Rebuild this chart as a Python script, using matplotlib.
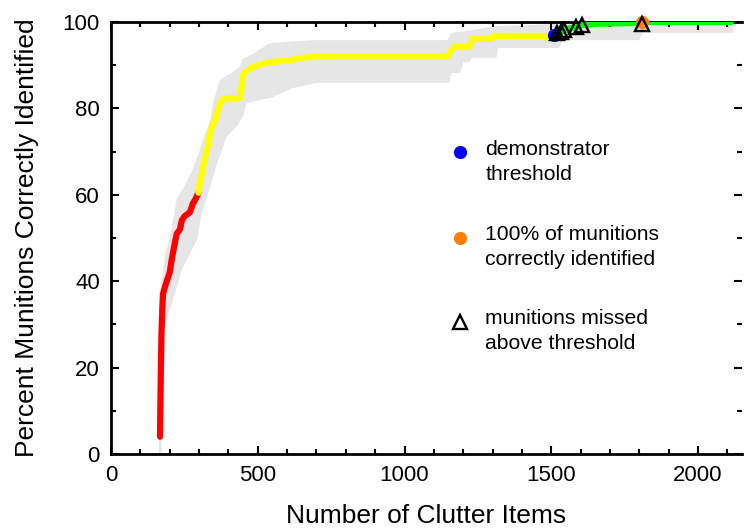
import matplotlib
matplotlib.use("Agg")
import matplotlib.pyplot as plt
from matplotlib.ticker import MultipleLocator
import numpy as np

plt.rcParams['font.family'] = ['Liberation Sans', 'DejaVu Sans']

# ---- data ----
red_x = [167, 168, 170, 172, 175, 177, 183, 190, 200, 207, 215, 224, 235, 241, 250, 260, 269, 279, 288, 298]
red_y = [4, 10, 20, 28, 34, 37, 38.5, 40, 42, 45, 48, 51, 52, 54, 55, 55.5, 56, 58, 59, 60.5]

yellow_x = [298, 303, 310, 318, 326, 332, 337, 345, 354, 362, 371, 380, 388, 439, 443, 445, 449, 460, 483,
            510, 541, 609, 650, 687, 1146, 1160, 1170, 1221, 1230, 1299, 1305, 1512]
yellow_y = [60.5, 63, 65, 68, 70, 72, 74, 76, 77, 79, 81, 82, 82.4, 82.4, 84, 85, 87.7, 88.5, 89.6,
            90.2, 90.7, 91.2, 91.6, 92, 92, 93.5, 94.3, 94.3, 96.1, 96.1, 96.8, 96.8]

green_x = [1512, 1520, 1534, 1544, 1560, 1585, 1605, 1650, 1806, 1812, 2112]
green_y = [96.9, 97.5, 97.7, 98.1, 98.5, 98.8, 99.3, 99.6, 99.8, 100, 100]

band_upper_x = [163, 163, 165, 168, 175, 184, 200, 224, 250, 279, 300, 320, 337, 350, 371, 405, 439, 449,
                480, 541, 687, 1146, 1160, 1221, 1300, 1500, 1520, 2120]
band_upper_y = [0, 15, 30, 38, 41, 46, 50, 59, 62, 66, 70, 74, 77, 82, 86.6, 88, 89.6, 91.5,
                92.5, 95.1, 95.8, 95.8, 97.5, 98, 99, 99.5, 100, 100]
band_lower_x = [172, 173, 176, 180, 190, 211, 241, 270, 293, 310, 330, 360, 394, 430, 449, 462, 551, 619,
                700, 1153, 1160, 1190, 1200, 1221, 1230, 1313, 1320, 1527, 1540, 1800, 1810, 2120]
band_lower_y = [0, 15, 25, 28.7, 31, 35.6, 42.6, 46.5, 49.5, 56, 60, 67, 73.4, 76, 78, 81.2, 82.6, 84.7,
                85.9, 85.9, 88.2, 88.2, 90.7, 90.7, 91.7, 91.7, 94, 94, 95.8, 95.8, 97.5, 97.5]

threshold_x = [1510]
threshold_y = [97]
all_found_x = [1808]
all_found_y = [100]
missed_x = [1520, 1534, 1544, 1585, 1605, 1810]
missed_y = [97.5, 97.7, 98.1, 98.8, 99.3, 99.5]

legend_labels = ["demonstrator\nthreshold", "100% of munitions\ncorrectly identified",
                 "munitions missed\nabove threshold"]

# ---- figure ----
fig = plt.figure(figsize=(7.45, 5.29), dpi=100)
ax = fig.add_axes([0.149, 0.1418, 0.847, 0.8166])

bx = np.concatenate([band_upper_x, band_lower_x[::-1]])
by = np.concatenate([band_upper_y, band_lower_y[::-1]])
ax.fill(bx, by, color='#e6e6e6', lw=0, zorder=1)

lw = 4.5
ax.plot(red_x, red_y, color='#ff0000', lw=lw, solid_capstyle='round', solid_joinstyle='round', zorder=3)
ax.plot(yellow_x, yellow_y, color='#ffff00', lw=lw, solid_capstyle='round', solid_joinstyle='round', zorder=3)
ax.plot(green_x, green_y, color='#00ff00', lw=lw, solid_capstyle='round', solid_joinstyle='round', zorder=3)

ax.plot(threshold_x, threshold_y, 'o', color='#0000ff', ms=9.5, mec='none', zorder=4, clip_on=False)
ax.plot(all_found_x, all_found_y, 'o', color='#ff7f00', ms=9.5, mec='none', zorder=4, clip_on=False)
ax.plot(missed_x, missed_y, '^', mfc='none', mec='black', ms=9.5, mew=1.7, zorder=5, clip_on=False)

ax.set_xlim(0, 2150)
ax.set_ylim(0, 100)

ax.xaxis.set_major_locator(MultipleLocator(500))
ax.xaxis.set_minor_locator(MultipleLocator(100))
ax.yaxis.set_major_locator(MultipleLocator(20))
ax.yaxis.set_minor_locator(MultipleLocator(10))

ax.tick_params(which='both', direction='in', top=True, right=True, width=1.5, labelsize=16, pad=8)
ax.tick_params(which='major', length=6)
ax.tick_params(which='minor', length=3.5)

for s in ['left', 'bottom', 'top']:
    ax.spines[s].set_linewidth(2)
ax.spines['right'].set_visible(False)

ax.set_xlabel("Number of Clutter Items", fontsize=19, labelpad=13)
ax.set_ylabel("Percent Munitions Correctly Identified", fontsize=19, labelpad=17)

# ---- custom legend ----
leg_marker_y = [0.699, 0.50, 0.3056]
leg_text_y = [0.728, 0.529, 0.335]
ax.plot(0.553, leg_marker_y[0], 'o', color='#0000ff', ms=9.5, mec='none', transform=ax.transAxes)
ax.plot(0.553, leg_marker_y[1], 'o', color='#ff7f00', ms=9.5, mec='none', transform=ax.transAxes)
ax.plot(0.553, leg_marker_y[2], '^', mfc='none', mec='black', ms=9.5, mew=1.7, transform=ax.transAxes)
for ty, lab in zip(leg_text_y, legend_labels):
    ax.text(0.593, ty, lab, transform=ax.transAxes, fontsize=15.2, va='top', ha='left', linespacing=1.4)

fig.savefig("out.png", dpi=100)
